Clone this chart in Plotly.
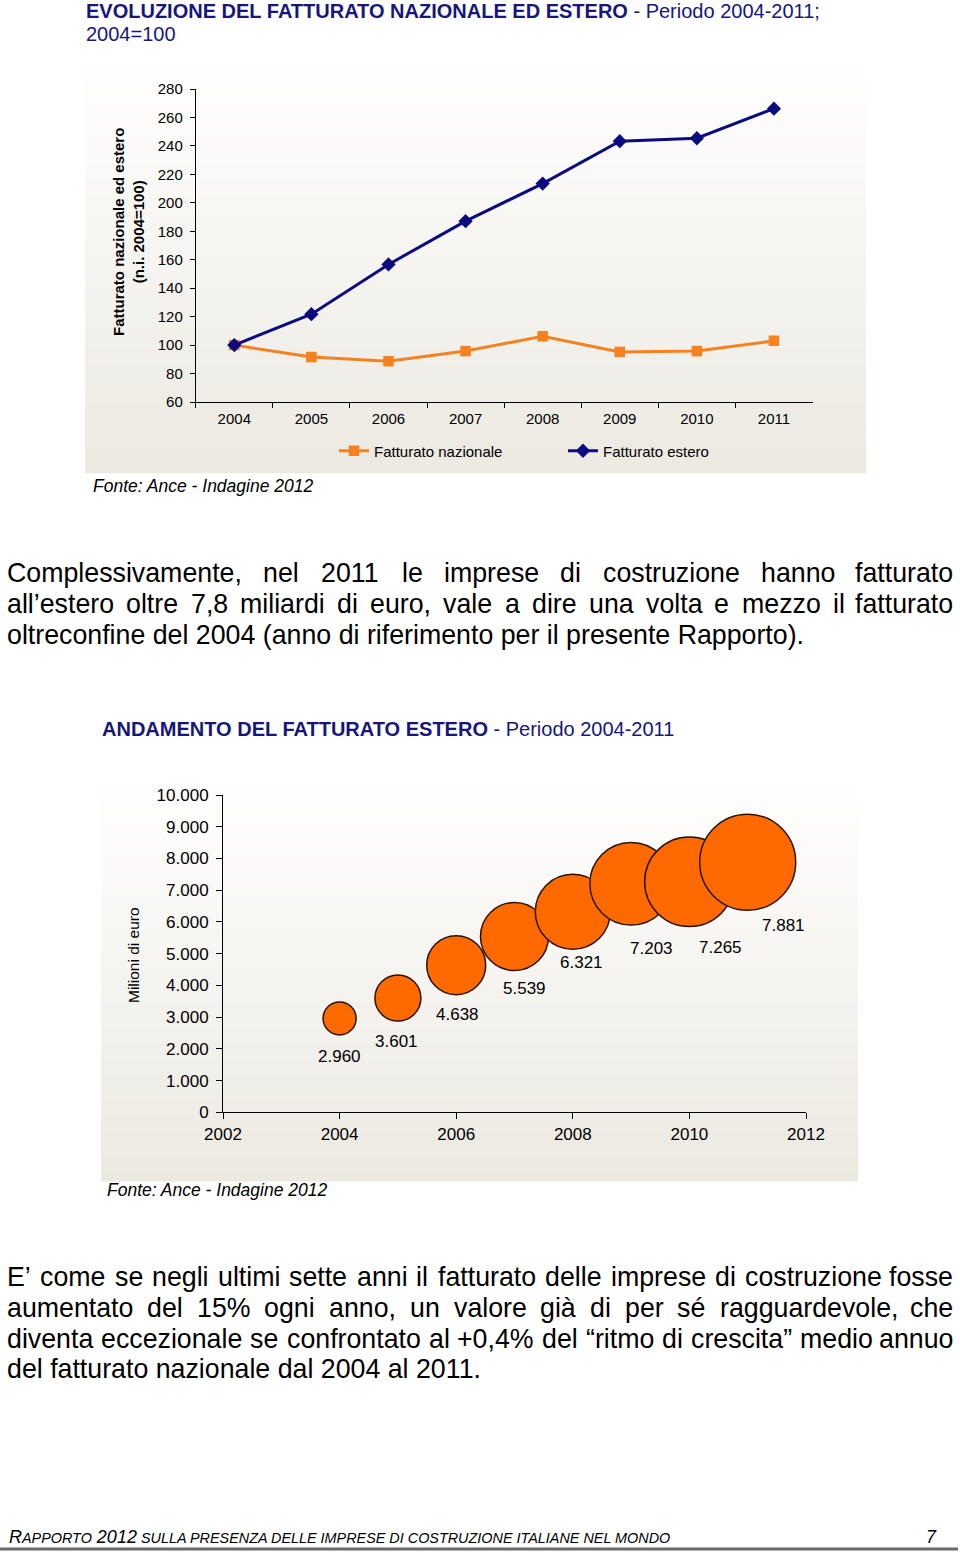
import plotly.graph_objects as go

# ---------------- data ----------------
years = ["2004", "2005", "2006", "2007", "2008", "2009", "2010", "2011"]
fatt_nazionale = [100, 91.6, 88.7, 95.8, 106.2, 95.2, 95.8, 103.0]
fatt_estero = [100, 121.7, 156.7, 187.1, 213.5, 243.3, 245.4, 266.2]

bubble_years = [2004, 2005, 2006, 2007, 2008, 2009, 2010, 2011]
estero_mln = [2960, 3601, 4638, 5539, 6321, 7203, 7265, 7881]
bubble_size = [33, 46, 59, 68, 75, 82.5, 89.5, 96]

y1_ticks = list(range(60, 281, 20))
y2_ticks = list(range(0, 10001, 1000))
x2_ticks = [2002, 2004, 2006, 2008, 2010, 2012]

para1 = [
    "Complessivamente, nel 2011 le imprese di costruzione hanno fatturato",
    "all\u2019estero oltre 7,8 miliardi di euro, vale a dire una volta e mezzo il fatturato",
    "oltreconfine del 2004 (anno di riferimento per il presente Rapporto).",
]
para2 = [
    "E\u2019 come se negli ultimi sette anni il fatturato delle imprese di costruzione fosse",
    "aumentato del 15% ogni anno, un valore gi\u00e0 di per s\u00e9 ragguardevole, che",
    "diventa eccezionale se confrontato al +0,4% del \u201critmo di crescita\u201d medio annuo",
    "del fatturato nazionale dal 2004 al 2011.",
]

# ---------------- helpers ----------------
W_PX, H_PX = 960, 1552
def px(x): return x / W_PX
def py(y): return 1 - y / H_PX

FONT = "Liberation Sans, Arial, Helvetica, sans-serif"
NAVY_T = "#16167c"
ORANGE = "#F5821F"
NAVY = "#0B0B80"
BUBBLE = "#FF6A00"

CW = {' ': 278, 'a': 556, 'b': 556, 'c': 500, 'd': 556, 'e': 556, 'f': 278, 'g': 556,
      'h': 556, 'i': 222, 'j': 222, 'k': 500, 'l': 222, 'm': 833, 'n': 556, 'o': 556,
      'p': 556, 'q': 556, 'r': 333, 's': 500, 't': 278, 'u': 556, 'v': 500, 'w': 722,
      'x': 500, 'y': 500, 'z': 500, 'C': 722, 'E': 667, 'R': 722, ',': 278, '.': 278,
      '(': 333, ')': 333, '\u2019': 222, '%': 889, '+': 584, '\u201c': 333, '\u201d': 333,
      '\u00e9': 556, '\u00e0': 556}
def word_w(w, fs):
    return sum(CW.get(c, 556) for c in w) * fs / 1000.0

annotations = []
shapes = []

BODY_FS = 26.75
LEFT, RIGHT = 6, 954

def add_para(lines, y0, dy):
    for i, line in enumerate(lines):
        yc = y0 + i * dy
        last = (i == len(lines) - 1)
        if last:
            annotations.append(dict(x=px(LEFT), y=py(yc), xref="paper", yref="paper",
                                    text=line, showarrow=False, xanchor="left", yanchor="middle",
                                    borderpad=0, font=dict(size=BODY_FS, color="black")))
            continue
        words = line.split(" ")
        ws = [word_w(w, BODY_FS) for w in words]
        gap = (RIGHT - LEFT - sum(ws)) / (len(words) - 1)
        x = LEFT
        for j, w in enumerate(words):
            if j == len(words) - 1:
                annotations.append(dict(x=px(RIGHT), y=py(yc), xref="paper", yref="paper",
                                        text=w, showarrow=False, xanchor="right", yanchor="middle",
                                        borderpad=0, font=dict(size=BODY_FS, color="black")))
            else:
                annotations.append(dict(x=px(x), y=py(yc), xref="paper", yref="paper",
                                        text=w, showarrow=False, xanchor="left", yanchor="middle",
                                        borderpad=0, font=dict(size=BODY_FS, color="black")))
            x += ws[j] + gap

add_para(para1, 573, 31)
add_para(para2, 1277, 30.8)

# gradient panels
def panel(x0, x1, y0, y1, n=50, top=(255, 255, 255), bot=(236, 233, 225)):
    h = (y1 - y0) / n
    for k in range(n):
        t = (k + 0.5) / n
        c = tuple(round(top[i] + (bot[i] - top[i]) * t) for i in range(3))
        shapes.append(dict(type="rect", xref="paper", yref="paper", layer="below",
                           x0=px(x0), x1=px(x1), y0=py(y0 + k * h), y1=py(y0 + (k + 1) * h + 0.5),
                           line=dict(width=0), fillcolor="rgb(%d,%d,%d)" % c))

panel(85, 866, 55, 472.7)
panel(101, 858, 775, 1181)

# footer line
shapes.append(dict(type="line", xref="paper", yref="paper", x0=px(0), x1=px(958),
                   y0=py(1549), y1=py(1549), line=dict(color="#6a6a6a", width=3)))

# titles
annotations += [
    dict(x=px(85), y=py(11), xref="paper", yref="paper", showarrow=False, xanchor="left",
         yanchor="middle", borderpad=0,
         text="<b>EVOLUZIONE DEL FATTURATO NAZIONALE ED ESTERO</b> - Periodo 2004-2011;",
         font=dict(size=20, color=NAVY_T)),
    dict(x=px(85), y=py(34), xref="paper", yref="paper", showarrow=False, xanchor="left",
         yanchor="middle", borderpad=0, text="2004=100", font=dict(size=20, color=NAVY_T)),
    dict(x=px(101), y=py(729), xref="paper", yref="paper", showarrow=False, xanchor="left",
         yanchor="middle", borderpad=0,
         text="<b>ANDAMENTO DEL FATTURATO ESTERO</b> - Periodo 2004-2011",
         font=dict(size=20, color=NAVY_T)),
    dict(x=px(128), y=py(232), xref="paper", yref="paper", showarrow=False, textangle=-90,
         xanchor="center", yanchor="middle",
         text="<b>Fatturato nazionale ed estero<br>(n.i. 2004=100)</b>",
         font=dict(size=15, color="black")),
    dict(x=px(133), y=py(955), xref="paper", yref="paper", showarrow=False, textangle=-90,
         xanchor="center", yanchor="middle", text="Milioni di euro",
         font=dict(size=15.5, color="black")),
    dict(x=px(92), y=py(486), xref="paper", yref="paper", showarrow=False, xanchor="left",
         yanchor="middle", borderpad=0, text="<i>Fonte: Ance - Indagine 2012</i>",
         font=dict(size=17.5, color="black")),
    dict(x=px(106), y=py(1190), xref="paper", yref="paper", showarrow=False, xanchor="left",
         yanchor="middle", borderpad=0, text="<i>Fonte: Ance - Indagine 2012</i>",
         font=dict(size=17.5, color="black")),
    dict(x=px(8), y=py(1537), xref="paper", yref="paper", showarrow=False, xanchor="left",
         yanchor="middle", borderpad=0,
         text=("<i>R<span style='font-size:14.4px'>APPORTO</span> 2012"
               "<span style='font-size:14.4px'> SULLA PRESENZA DELLE IMPRESE DI COSTRUZIONE "
               "ITALIANE NEL MONDO</span></i>"),
         font=dict(size=18, color="black")),
    dict(x=px(938), y=py(1537), xref="paper", yref="paper", showarrow=False, xanchor="right",
         yanchor="middle", borderpad=0, text="<i>7</i>", font=dict(size=18, color="black")),
]

# bubble labels (offsets are styling)
label_dx = [0, -1, 1, 10, 9, 20, 31, 36]
label_dy = [38, 43, 49, 52, 51, 65, 66, 63]
for yr, v, dx, dy in zip(bubble_years, estero_mln, label_dx, label_dy):
    annotations.append(dict(x=yr, y=v, xref="x2", yref="y2", showarrow=False,
                            text=f"{v:,}".replace(",", "."), xanchor="center", yanchor="middle",
                            xshift=dx, yshift=-dy, font=dict(size=17, color="black")))

# ---------------- figure ----------------
fig = go.Figure()
fig.add_trace(go.Scatter(x=years, y=fatt_nazionale, name="Fatturato nazionale",
                         mode="lines+markers", line=dict(color=ORANGE, width=3),
                         marker=dict(symbol="square", size=10.5, color=ORANGE),
                         xaxis="x", yaxis="y"))
fig.add_trace(go.Scatter(x=years, y=fatt_estero, name="Fatturato estero",
                         mode="lines+markers", line=dict(color=NAVY, width=3),
                         marker=dict(symbol="diamond", size=11, color=NAVY),
                         xaxis="x", yaxis="y"))
fig.add_trace(go.Scatter(x=bubble_years, y=estero_mln, mode="markers", showlegend=False,
                         marker=dict(size=bubble_size, sizemode="diameter", color=BUBBLE,
                                     opacity=1, line=dict(color="#2a1300", width=1.5)),
                         xaxis="x2", yaxis="y2"))

axis_common = dict(showline=True, linecolor="black", linewidth=1, showgrid=False,
                   zeroline=False, ticks="outside", tickcolor="black", tickwidth=1,
                   automargin=False)

fig.update_layout(
    width=W_PX, height=H_PX, autosize=False,
    margin=dict(l=0, r=0, t=0, b=0, pad=0, autoexpand=False),
    paper_bgcolor="white", plot_bgcolor="rgba(0,0,0,0)",
    font=dict(family=FONT, color="black", size=15),
    separators=",.",
    showlegend=True,
    legend=dict(orientation="h", x=px(334), y=py(451), xanchor="left", yanchor="middle",
                font=dict(size=15), entrywidth=184, entrywidthmode="pixels",
                bgcolor="rgba(0,0,0,0)", traceorder="normal"),
    xaxis=dict(domain=[px(195.75), px(812.5)], anchor="y", type="category",
               range=[-0.5, 7.5], tickson="boundaries", ticklen=5, ticklabelstandoff=3,
               tickfont=dict(size=15), **axis_common),
    yaxis=dict(domain=[py(402), py(89)], anchor="x", range=[60, 280],
               tickvals=y1_ticks, ticklen=5, ticklabelstandoff=4,
               tickfont=dict(size=15), **axis_common),
    xaxis2=dict(domain=[px(223), px(806)], anchor="y2", range=[2002, 2012],
                tickvals=x2_ticks, ticklen=6, tickfont=dict(size=17), **axis_common),
    yaxis2=dict(domain=[py(1112.3), py(795)], anchor="x2", range=[0, 10000],
                tickvals=y2_ticks, tickformat=",d", ticklen=6, ticklabelstandoff=4,
                tickfont=dict(size=17), **axis_common),
    annotations=annotations,
    shapes=shapes,
)

fig.write_html("out.html", config={"responsive": False, "displayModeBar": False})
